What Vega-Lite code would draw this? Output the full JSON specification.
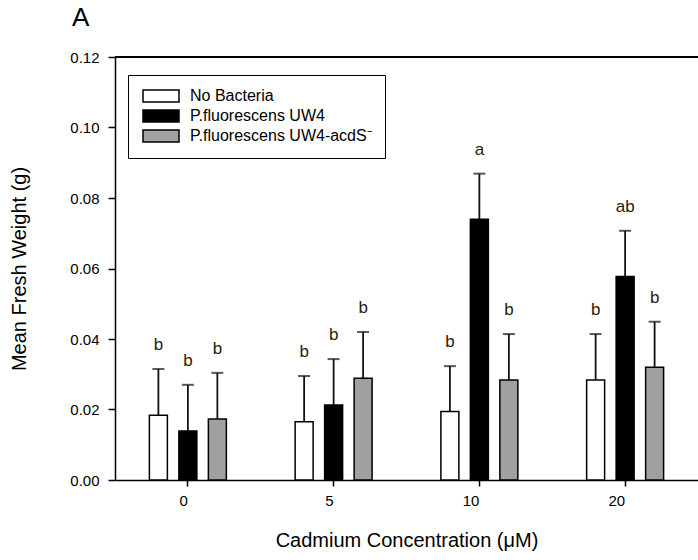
{
  "$schema": "https://vega.github.io/schema/vega-lite/v6.json",
  "width": 583,
  "height": 423,
  "autosize": {"type": "none"},
  "padding": {"left": 115, "top": 57, "right": 0, "bottom": 80},
  "background": "white",
  "config": {"view": {"stroke": null}, "font": "Liberation Sans"},
  "title": {"text": "A", "anchor": "start", "frame": "group", "fontSize": 26, "fontWeight": "normal", "color": "black", "dx": -43, "offset": 19},
  "data": {"values": [
    {"conc": "0", "group": "No Bacteria", "mean": 0.0184, "upper": 0.0315, "letter": "b"},
    {"conc": "0", "group": "P.fluorescens UW4", "mean": 0.0139, "upper": 0.027, "letter": "b"},
    {"conc": "0", "group": "P.fluorescens UW4-acdS⁻", "mean": 0.0173, "upper": 0.0304, "letter": "b"},
    {"conc": "5", "group": "No Bacteria", "mean": 0.0165, "upper": 0.0295, "letter": "b"},
    {"conc": "5", "group": "P.fluorescens UW4", "mean": 0.0213, "upper": 0.0343, "letter": "b"},
    {"conc": "5", "group": "P.fluorescens UW4-acdS⁻", "mean": 0.0289, "upper": 0.042, "letter": "b"},
    {"conc": "10", "group": "No Bacteria", "mean": 0.0194, "upper": 0.0323, "letter": "b"},
    {"conc": "10", "group": "P.fluorescens UW4", "mean": 0.074, "upper": 0.0869, "letter": "a"},
    {"conc": "10", "group": "P.fluorescens UW4-acdS⁻", "mean": 0.0284, "upper": 0.0414, "letter": "b"},
    {"conc": "20", "group": "No Bacteria", "mean": 0.0284, "upper": 0.0414, "letter": "b"},
    {"conc": "20", "group": "P.fluorescens UW4", "mean": 0.0577, "upper": 0.0707, "letter": "ab"},
    {"conc": "20", "group": "P.fluorescens UW4-acdS⁻", "mean": 0.032, "upper": 0.0449, "letter": "b"}
  ]},
  "layer": [
    {
      "mark": {"type": "rule", "color": "black", "strokeWidth": 1.5},
      "encoding": {"y": {"datum": 0.12, "type": "quantitative"}}
    },
    {
      "mark": {"type": "rule", "color": "#111", "strokeWidth": 1.8},
      "encoding": {
        "x": {"field": "conc", "type": "nominal", "sort": ["0", "5", "10", "20"]},
        "xOffset": {"field": "group", "type": "nominal", "sort": ["No Bacteria", "P.fluorescens UW4", "P.fluorescens UW4-acdS⁻"]},
        "y": {"field": "mean", "type": "quantitative"},
        "y2": {"field": "upper"}
      }
    },
    {
      "mark": {"type": "bar", "stroke": "black", "strokeWidth": 1.5},
      "encoding": {
        "x": {"field": "conc", "type": "nominal", "sort": ["0", "5", "10", "20"],
          "scale": {"paddingInner": 0.393, "paddingOuter": 0.1965},
          "axis": {"title": "Cadmium Concentration (μM)", "labelAngle": 0, "tickSize": 6, "tickColor": "black", "tickWidth": 1.5, "domainColor": "black", "domainWidth": 1.5, "labelFontSize": 15, "labelPadding": 14, "labelColor": "black", "titleFontSize": 20, "titleFontWeight": "normal", "titleColor": "black", "titlePadding": 22}},
        "xOffset": {"field": "group", "type": "nominal", "sort": ["No Bacteria", "P.fluorescens UW4", "P.fluorescens UW4-acdS⁻"],
          "scale": {"paddingInner": 0.39, "paddingOuter": 0.195}},
        "y": {"field": "mean", "type": "quantitative",
          "scale": {"domain": [0, 0.12], "nice": false},
          "axis": {"values": [0, 0.02, 0.04, 0.06, 0.08, 0.1, 0.12], "format": ".2f", "grid": false, "tickSize": 7, "tickColor": "black", "tickWidth": 1.5, "domainColor": "black", "domainWidth": 1.5, "labelFontSize": 15, "labelPadding": 9, "labelColor": "black", "title": "Mean Fresh Weight (g)", "titleFontSize": 20, "titleFontWeight": "normal", "titleColor": "black", "titlePadding": 40}},
        "fill": {"field": "group", "type": "nominal",
          "scale": {"domain": ["No Bacteria", "P.fluorescens UW4", "P.fluorescens UW4-acdS⁻"], "range": ["white", "black", "#a0a0a0"]},
          "legend": {"orient": "none", "legendX": 13, "legendY": 18, "title": null, "strokeColor": "black", "fillColor": "white", "padding": 13, "symbolType": "M-1,-1H5V1H-1Z", "symbolSize": 144, "symbolStrokeColor": "black", "symbolStrokeWidth": 1.5, "symbolOpacity": 1, "labelFontSize": 16, "labelColor": "black", "labelOffset": 33, "labelLimit": 400, "rowPadding": 2}}
      }
    },
    {
      "mark": {"type": "tick", "color": "#111", "thickness": 2, "size": 12},
      "encoding": {
        "x": {"field": "conc", "type": "nominal", "sort": ["0", "5", "10", "20"]},
        "xOffset": {"field": "group", "type": "nominal", "sort": ["No Bacteria", "P.fluorescens UW4", "P.fluorescens UW4-acdS⁻"]},
        "y": {"field": "upper", "type": "quantitative"}
      }
    },
    {
      "mark": {"type": "text", "baseline": "bottom", "dy": -15, "fontSize": 17, "color": "#2a2010"},
      "encoding": {
        "x": {"field": "conc", "type": "nominal", "sort": ["0", "5", "10", "20"]},
        "xOffset": {"field": "group", "type": "nominal", "sort": ["No Bacteria", "P.fluorescens UW4", "P.fluorescens UW4-acdS⁻"]},
        "y": {"field": "upper", "type": "quantitative"},
        "text": {"field": "letter"}
      }
    }
  ]
}
